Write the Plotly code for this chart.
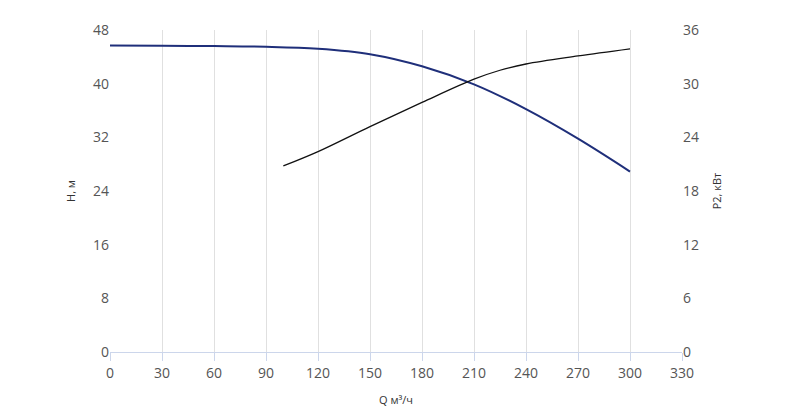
import plotly.graph_objects as go

q_h = [0, 30, 60, 90, 120, 150, 180, 210, 240, 270, 300]
h = [45.7, 45.65, 45.6, 45.5, 45.2, 44.4, 42.6, 39.9, 36.2, 31.8, 26.9]
q_p = [100, 120, 150, 180, 210, 225, 240, 270, 300]
p2 = [20.8, 22.4, 25.2, 27.9, 30.5, 31.5, 32.2, 33.1, 33.9]

fig = go.Figure()
fig.add_trace(go.Scatter(x=q_h, y=h, mode="lines", line=dict(color="#1f2f7a", width=2, shape="spline")))
fig.add_trace(go.Scatter(x=q_p, y=p2, mode="lines", yaxis="y2", line=dict(color="#111111", width=1.3, shape="spline")))

font = dict(family="Open Sans", size=14, color="#555")
fig.update_layout(
    width=800, height=408, showlegend=False,
    plot_bgcolor="white", paper_bgcolor="white",
    margin=dict(l=102, r=126, t=14, b=56),
    xaxis=dict(range=[0, 330], dtick=30, showgrid=True, gridcolor="#e0e0e0",
               showline=True, linecolor="#ccd6eb", ticks="outside", ticklen=8, tickcolor="#ccd6eb",
               tickfont=font, zeroline=False,
               title=dict(text="Q м³/ч", font=dict(family="Open Sans", size=11, color="#333"))),
    yaxis=dict(range=[0, 48], dtick=8, showgrid=False, zeroline=False, tickfont=font,
               title=dict(text="H, м", font=dict(family="Open Sans", size=11, color="#333"))),
    yaxis2=dict(range=[0, 36], dtick=6, overlaying="y", side="right", showgrid=False, zeroline=False,
                tickfont=font,
                title=dict(text="P2, кВт", font=dict(family="Open Sans", size=11, color="#333"))),
)
fig.write_html("out.html")
